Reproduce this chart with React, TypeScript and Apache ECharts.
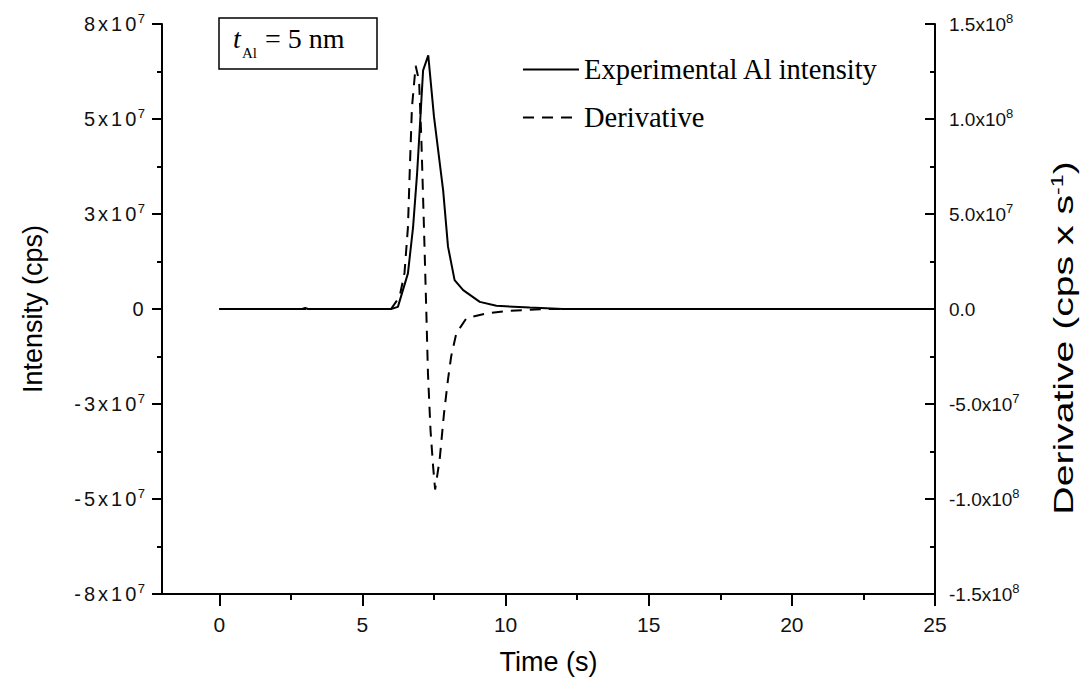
import React, { useEffect, useRef } from "react";
import * as echarts from "echarts";

// ---- data ----
const seriesNames = ["Experimental Al intensity", "Derivative"];

const intensityTime = [0, 2.9, 3.0, 3.1, 6.0, 6.24, 6.59, 6.77, 6.91, 7.02, 7.12, 7.3, 7.5, 7.82, 7.99, 8.22, 8.52, 9.1, 9.68, 10.85, 12, 25];
const intensityValues = [0, 0, 3e5, 0, 0, 6e5, 1.0e7, 2.3e7, 3.8e7, 5.3e7, 6.7e7, 7.12e7, 5.4e7, 3.33e7, 1.75e7, 0.81e7, 0.53e7, 0.2e7, 0.09e7, 0.04e7, 0, 0];

const derivativeTime = [0, 6.0, 6.3, 6.47, 6.59, 6.65, 6.73, 6.86, 6.98, 7.06, 7.15, 7.23, 7.29, 7.38, 7.47, 7.54, 7.7, 7.85, 7.99, 8.1, 8.28, 8.63, 9.33, 10.03, 11.43, 25];
const derivativeValues = [0, 0, 6.5e6, 1.9e7, 4.3e7, 7.1e7, 1.06e8, 1.28e8, 1.2e8, 8.9e7, 4.3e7, 0, -3.4e7, -6.4e7, -8.3e7, -9.5e7, -7.9e7, -5.5e7, -3.7e7, -2.5e7, -1.28e7, -4.9e6, -2.3e6, -1.05e6, 0, 0];

const xMajorTicks = [0, 5, 10, 15, 20, 25];
const xMinorTicks = [2.5, 7.5, 12.5, 17.5, 22.5];

const SANS = '"Liberation Sans", Arial, sans-serif';
const SERIF = '"Liberation Serif", "Times New Roman", serif';

function fmtLeft(v: number): string {
  if (Math.abs(v) < 1) return "{c|0}";
  const m = String(Math.round(v / 1e7));
  const chars = (m + "x10").split("");
  return chars.map((ch) => `{c|${ch}}`).join("") + "{s|7}";
}
function fmtRight(v: number): string {
  if (Math.abs(v) < 1) return "{a|0.0}";
  const e = Math.abs(v) >= 1e8 - 1 ? 8 : 7;
  return `{a|${(v / Math.pow(10, e)).toFixed(1)}x10}{s|${e}}`;
}

const leftRich = {
  c: { fontFamily: SANS, fontSize: 20, color: "#111", lineHeight: 24, padding: [0, 1.5, 0, 1.5] },
  s: { fontFamily: SANS, fontSize: 13, color: "#111", lineHeight: 13, verticalAlign: "top" },
};
const rightRich = {
  a: { fontFamily: SANS, fontSize: 19, color: "#111", lineHeight: 24 },
  s: { fontFamily: SANS, fontSize: 13, color: "#111", lineHeight: 13, verticalAlign: "top" },
};

export default function App() {
  const ref = useRef<HTMLDivElement>(null);
  useEffect(() => {
    document.body.style.margin = "0";
    const chart = echarts.init(ref.current!, null, { renderer: "svg" });
    const option: any = {
      animation: false,
      backgroundColor: "#fff",
      grid: { left: 162, right: 146, top: 24, bottom: 104 },
      legend: {
        orient: "vertical",
        left: 522,
        top: 55,
        padding: 0,
        itemWidth: 56,
        itemHeight: 28,
        itemGap: 19,
        data: seriesNames,
        itemStyle: { opacity: 0 },
        textStyle: { fontFamily: SERIF, fontSize: 28.5, color: "#000", lineHeight: 28 },
      },
      xAxis: [
        {
          type: "value",
          min: -2,
          max: 25,
          name: "Time (s)",
          nameLocation: "middle",
          nameGap: 54,
          nameTextStyle: { fontFamily: SANS, fontSize: 27, color: "#000" },
          axisLine: { show: true, onZero: false, lineStyle: { color: "#000", width: 2 } },
          axisTick: { show: true, customValues: xMajorTicks, length: 12, lineStyle: { color: "#000", width: 2 } },
          axisLabel: {
            customValues: xMajorTicks,
            margin: 20,
            fontFamily: SANS,
            fontSize: 21,
            color: "#111",
          },
          splitLine: { show: false },
        },
        {
          type: "value",
          min: -2,
          max: 25,
          position: "bottom",
          axisLine: { show: false, onZero: false },
          axisTick: { show: true, customValues: xMinorTicks, length: 6, lineStyle: { color: "#000", width: 2 } },
          axisLabel: { show: false },
          splitLine: { show: false },
        },
      ],
      yAxis: [
        {
          type: "value",
          position: "left",
          min: -8e7,
          max: 8e7,
          interval: 8e7 / 3,
          name: "Intensity (cps)",
          nameLocation: "middle",
          nameGap: 116,
          nameTextStyle: { fontFamily: SANS, fontSize: 27, color: "#000" },
          axisLine: { show: true, onZero: false, lineStyle: { color: "#000", width: 2 } },
          axisTick: { show: true, length: 10, lineStyle: { color: "#000", width: 2 } },
          minorTick: { show: true, splitNumber: 2, length: 5, lineStyle: { color: "#000", width: 2 } },
          axisLabel: { margin: 17, formatter: fmtLeft, rich: leftRich },
          splitLine: { show: false },
        },
        {
          type: "value",
          position: "right",
          min: -1.5e8,
          max: 1.5e8,
          interval: 5e7,
          axisLine: { show: true, onZero: false, lineStyle: { color: "#000", width: 2 } },
          axisTick: { show: true, inside: true, length: 10, lineStyle: { color: "#000", width: 2 } },
          minorTick: { show: true, splitNumber: 2, length: 5, lineStyle: { color: "#000", width: 2 } },
          axisLabel: { margin: 14, formatter: fmtRight, rich: rightRich },
          splitLine: { show: false },
        },
      ],
      graphic: [
        {
          type: "rect",
          shape: { x: 219, y: 18, width: 158, height: 51 },
          style: { fill: "#fff", stroke: "#000", lineWidth: 1.5 },
          z: 10,
        },
        {
          type: "text",
          x: 233,
          y: 38,
          z: 11,
          style: { text: "t", font: `italic 28px ${SERIF}`, fill: "#000", align: "left", verticalAlign: "middle" },
        },
        {
          type: "text",
          x: 242,
          y: 53,
          z: 11,
          style: { text: "Al", font: `15px ${SERIF}`, fill: "#000", align: "left", verticalAlign: "middle" },
        },
        {
          type: "text",
          x: 265,
          y: 38,
          z: 11,
          style: { text: "= 5 nm", font: `28px ${SERIF}`, fill: "#000", align: "left", verticalAlign: "middle" },
        },
        {
          type: "text",
          x: 1064,
          y: 338,
          rotation: Math.PI / 2,
          scaleX: 1.45,
          z: 11,
          style: {
            text: "{a|Derivative (cps x s}{s|-1}{a|)}",
            align: "center",
            verticalAlign: "middle",
            rich: {
              a: { fontFamily: SANS, fontSize: 27, fill: "#000", lineHeight: 30 },
              s: { fontFamily: SANS, fontSize: 16, fill: "#000", lineHeight: 16, verticalAlign: "top" },
            },
          },
        },
      ],
      series: [
        {
          name: seriesNames[0],
          type: "line",
          xAxisIndex: 0,
          yAxisIndex: 0,
          data: intensityTime.map((t, i) => [t, intensityValues[i]]),
          symbol: "none",
          showSymbol: false,
          lineStyle: { color: "#000", width: 2 },
          itemStyle: { color: "#000" },
        },
        {
          name: seriesNames[1],
          type: "line",
          xAxisIndex: 0,
          yAxisIndex: 1,
          data: derivativeTime.map((t, i) => [t, derivativeValues[i]]),
          symbol: "none",
          showSymbol: false,
          lineStyle: { color: "#000", width: 2, type: [11, 8] },
          itemStyle: { color: "#000" },
        },
      ],
    };
    chart.setOption(option);
    return () => chart.dispose();
  }, []);
  return <div ref={ref} style={{ width: 1081, height: 698, background: "#fff" }} />;
}
